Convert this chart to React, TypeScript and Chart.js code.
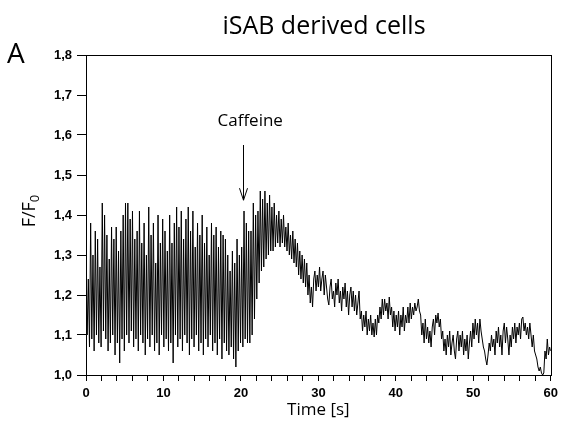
import React, { useEffect, useRef } from "react";
import { Chart, registerables } from "chart.js";

Chart.register(...registerables);

// Sampling interval of the recorded trace [s]
const SAMPLE_DT = 0.15;

// Trace before caffeine (starts at 0 s)
const PRE_START = 0;
const preCaffeine = [
  1.32, 1.10, 1.24, 1.07, 1.38, 1.09, 1.30, 1.06, 1.36, 1.10, 1.34, 1.08, 1.27, 1.07, 1.43, 1.11, 1.40, 1.09, 1.35, 1.06,
  1.29, 1.08, 1.37, 1.10, 1.34, 1.05, 1.37, 1.08, 1.31, 1.03, 1.36, 1.09, 1.40, 1.06, 1.43, 1.10, 1.43, 1.08, 1.39, 1.11,
  1.41, 1.07, 1.34, 1.09, 1.36, 1.06, 1.41, 1.10, 1.33, 1.08, 1.38, 1.05, 1.30, 1.09, 1.42, 1.07, 1.35, 1.10, 1.38, 1.06,
  1.28, 1.08, 1.40, 1.05, 1.33, 1.10, 1.39, 1.07, 1.36, 1.09, 1.31, 1.06, 1.40, 1.08, 1.33, 1.03, 1.38, 1.10, 1.42, 1.07,
  1.37, 1.09, 1.41, 1.06, 1.34, 1.10, 1.39, 1.08, 1.42, 1.05, 1.36, 1.09, 1.41, 1.07, 1.32, 1.10, 1.38, 1.06, 1.35, 1.08,
  1.40, 1.05, 1.33, 1.09, 1.37, 1.07, 1.30, 1.10, 1.38, 1.06, 1.35, 1.08, 1.37, 1.05, 1.32, 1.09, 1.36, 1.04, 1.35, 1.08,
  1.34, 1.06, 1.30, 1.05, 1.26, 1.07, 1.31, 1.04, 1.28, 1.02, 1.34, 1.06, 1.30, 1.08, 1.32, 1.07, 1.41, 1.09, 1.38, 1.08,
];

// Caffeine response (starts at 21 s)
const RESPONSE_START = 21.0;
const caffeineResponse = [
  1.36, 1.08, 1.36, 1.10, 1.43, 1.14, 1.40, 1.19, 1.41, 1.23, 1.46, 1.26, 1.44, 1.27, 1.46, 1.29, 1.43, 1.30, 1.45, 1.31,
  1.42, 1.31, 1.43, 1.32, 1.40, 1.33, 1.41, 1.32, 1.39, 1.33, 1.40, 1.32, 1.37, 1.31, 1.38, 1.30, 1.35, 1.29, 1.36, 1.28,
  1.34, 1.27, 1.33, 1.25, 1.31, 1.24, 1.30, 1.23, 1.29, 1.22, 1.28, 1.20, 1.25, 1.18, 1.22, 1.17,
];

// Decay phase (starts at 29.4 s)
const DECAY_START = 29.4;
const decay = [
  1.24, 1.26, 1.21, 1.25, 1.22, 1.27, 1.21, 1.24, 1.26, 1.20, 1.25, 1.22,
  1.19, 1.175, 1.22, 1.24, 1.19, 1.21, 1.17, 1.23, 1.20, 1.24, 1.18, 1.21,
  1.16, 1.22, 1.19, 1.23, 1.17, 1.21, 1.15, 1.20, 1.22, 1.17, 1.21, 1.16,
  1.20, 1.15, 1.18, 1.21, 1.14, 1.16, 1.11, 1.15, 1.12, 1.16, 1.10, 1.14,
  1.11, 1.15, 1.10, 1.13, 1.095, 1.14, 1.10, 1.15, 1.13, 1.17, 1.14, 1.19,
  1.15, 1.19, 1.16, 1.18, 1.14, 1.195, 1.15, 1.17, 1.12, 1.16, 1.11, 1.15,
  1.12, 1.16, 1.10, 1.15, 1.12, 1.17, 1.11, 1.15, 1.13, 1.17, 1.13, 1.18,
  1.14, 1.17, 1.15, 1.18, 1.16, 1.17, 1.19, 1.16, 1.15, 1.10, 1.13, 1.08,
  1.14, 1.09, 1.12, 1.08, 1.11, 1.07, 1.12, 1.14, 1.10, 1.15, 1.13, 1.155,
  1.12, 1.14, 1.09, 1.11, 1.06, 1.09, 1.05, 1.10, 1.07, 1.11, 1.05, 1.08,
  1.10, 1.06, 1.04, 1.09, 1.11, 1.06, 1.10, 1.07, 1.11, 1.05, 1.09, 1.06,
  1.10, 1.04, 1.08, 1.11, 1.07, 1.13, 1.09, 1.14, 1.10, 1.13, 1.08, 1.14,
  1.11, 1.09, 1.07, 1.06, 1.04, 1.025, 1.05, 1.08, 1.06, 1.10, 1.07, 1.09,
  1.05, 1.11, 1.08, 1.12, 1.07, 1.10, 1.05, 1.11, 1.13, 1.08, 1.12, 1.09,
  1.05, 1.10, 1.07, 1.12, 1.09, 1.13, 1.08, 1.12, 1.10, 1.13, 1.09, 1.14,
  1.145, 1.11, 1.13, 1.10, 1.12, 1.09, 1.13, 1.10, 1.07, 1.10, 1.06, 1.05,
  1.04, 1.02, 1.01, 1.02, 1.005, 1.0, 1.005, 1.06, 1.04, 1.09, 1.05, 1.07,
  1.06,
];

const X_MIN = 0;
const X_MAX = 60;
const X_STEP = 2;
const X_LABEL_EVERY = 10;
const Y_MIN = 1.0;
const Y_MAX = 1.8;
const Y_STEP = 0.1;

const TITLE = "iSAB derived cells";
const PANEL = "A";
const X_TITLE = "Time [s]";
const ANNOTATION = "Caffeine";
const CAFFEINE_TIME = 20.3;

function toPoints(start: number, values: number[]) {
  return values.map((v, i) => ({ x: start + i * SAMPLE_DT, y: v }));
}

const overlayPlugin = {
  id: "overlay",
  afterDraw(chart: any) {
    const { ctx, chartArea: a, scales } = chart;
    const xs = scales.x;
    const ys = scales.y;
    ctx.save();
    ctx.strokeStyle = "#000";
    ctx.fillStyle = "#000";
    ctx.lineWidth = 1;
    // frame
    ctx.strokeRect(Math.round(a.left) + 0.5, Math.round(a.top) + 0.5, Math.round(a.right - a.left), Math.round(a.bottom - a.top));

    // title
    ctx.textAlign = "center";
    ctx.textBaseline = "alphabetic";
    ctx.font = '25px "Open Sans"';
    ctx.fillText(TITLE, 324, 34);

    // panel letter
    ctx.font = '28px "Open Sans"';
    ctx.textAlign = "left";
    ctx.fillText(PANEL, 7, 63);

    // x title
    ctx.textAlign = "center";
    ctx.textBaseline = "middle";
    ctx.font = '17px "Open Sans"';
    ctx.fillText(X_TITLE, (a.left + a.right) / 2, 410);

    // y title F/F0 rotated
    ctx.save();
    ctx.translate(29, 211);
    ctx.rotate(-Math.PI / 2);
    ctx.font = '18px "Open Sans"';
    const main = "F/F";
    const wMain = ctx.measureText(main).width;
    ctx.font = '13px "Open Sans"';
    const wSub = ctx.measureText("0").width;
    const total = wMain + wSub;
    ctx.textAlign = "left";
    ctx.textBaseline = "alphabetic";
    ctx.font = '18px "Open Sans"';
    ctx.fillText(main, -total / 2, 6);
    ctx.font = '13px "Open Sans"';
    ctx.fillText("0", -total / 2 + wMain, 10);
    ctx.restore();

    // annotation
    const ax = Math.round(xs.getPixelForValue(CAFFEINE_TIME)) + 0.5;
    const yTop = ys.getPixelForValue(1.575);
    const yTip = ys.getPixelForValue(1.437);
    ctx.font = '17px "Open Sans"';
    ctx.textAlign = "center";
    ctx.textBaseline = "middle";
    ctx.fillText(ANNOTATION, xs.getPixelForValue(21.2), ys.getPixelForValue(1.635));
    ctx.beginPath();
    ctx.moveTo(ax, yTop);
    ctx.lineTo(ax, yTip);
    ctx.moveTo(ax - 4, yTip - 12);
    ctx.lineTo(ax, yTip);
    ctx.lineTo(ax + 4, yTip - 12);
    ctx.stroke();
    ctx.restore();
  },
};

export default function App() {
  const ref = useRef<HTMLCanvasElement>(null);
  useEffect(() => {
    if (!ref.current) return;
    const data = [
      ...toPoints(PRE_START, preCaffeine),
      ...toPoints(RESPONSE_START, caffeineResponse),
      ...toPoints(DECAY_START, decay),
    ];
    const tickFont = { family: '"Liberation Sans", Arial, sans-serif', size: 13, weight: "bold" as const };
    const chart = new Chart(ref.current, {
      type: "line",
      data: {
        datasets: [
          {
            data,
            borderColor: "#000",
            borderWidth: 1,
            pointRadius: 0,
            tension: 0,
            fill: false,
          },
        ],
      },
      options: {
        animation: false,
        responsive: false,
        layout: { padding: { left: 0, top: 55, right: 9, bottom: 0 } },
        plugins: { legend: { display: false }, tooltip: { enabled: false } },
        scales: {
          x: {
            type: "linear",
            min: X_MIN,
            max: X_MAX,
            border: { display: false },
            grid: { drawOnChartArea: false, drawTicks: true, tickLength: 6, color: "#000" },
            ticks: {
              stepSize: X_STEP,
              autoSkip: false,
              maxRotation: 0,
              color: "#000",
              font: tickFont,
              padding: 5,
              callback: (v: any) => (Math.round(Number(v)) % X_LABEL_EVERY === 0 ? String(Math.round(Number(v))) : ""),
            },
            afterFit: (s: any) => {
              s.height = 66;
            },
          },
          y: {
            min: Y_MIN,
            max: Y_MAX,
            border: { display: false },
            grid: { drawOnChartArea: false, drawTicks: true, tickLength: 9, color: "#000" },
            ticks: {
              stepSize: Y_STEP,
              color: "#000",
              font: tickFont,
              padding: 5,
              callback: (v: any) => Number(v).toFixed(1).replace(".", ","),
            },
            afterFit: (s: any) => {
              s.width = 86;
            },
          },
        },
      },
      plugins: [overlayPlugin],
    });
    return () => chart.destroy();
  }, []);
  return (
    <div style={{ position: "fixed", left: 0, top: 0, width: 563, height: 441, background: "#fff" }}>
      <canvas ref={ref} width={563} height={441} style={{ display: "block" }} />
    </div>
  );
}
